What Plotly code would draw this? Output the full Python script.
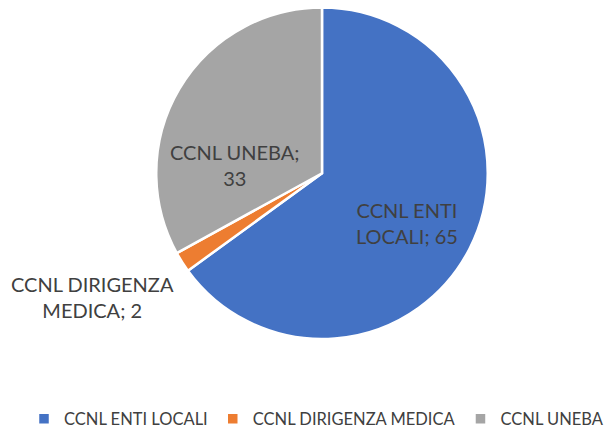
import plotly.graph_objects as go

categories = ["CCNL ENTI LOCALI", "CCNL DIRIGENZA MEDICA", "CCNL UNEBA"]
values = [65, 2, 33]
label_lines = [("CCNL ENTI", "LOCALI"), ("CCNL DIRIGENZA", "MEDICA"), ("CCNL UNEBA;", "")]
colors = ["#4472C4", "#ED7D31", "#A5A5A5"]

W, H = 616, 430
FONT = "Lato, 'Open Sans', sans-serif"
TXT = "#404040"

fig = go.Figure(go.Pie(
    labels=categories,
    values=values,
    textinfo="none",
    sort=False,
    direction="clockwise",
    rotation=0,
    marker=dict(colors=colors, line=dict(color="white", width=2.5)),
    domain=dict(x=[156 / W, 488 / W], y=[1 - 339 / H, 1 - 7.5 / H]),
    hoverinfo="label+value",
))

# data label placement (paper fractions): centre of each label block
label_pos = [(407 / W, 1 - 223 / H), (92.5 / W, 1 - 297 / H), (235 / W, 1 - 165 / H)]
for (l1, l2), v, (px, py) in zip(label_lines, values, label_pos):
    txt = f"{l1}<br>{l2}; {v}" if l2 else f"{l1}<br>{v}"
    fig.add_annotation(
        x=px, y=py, xref="paper", yref="paper",
        xanchor="center", yanchor="middle",
        text=txt, showarrow=False, align="center",
        font=dict(family=FONT, size=20, color=TXT),
    )

fig.update_layout(
    width=W, height=H,
    margin=dict(l=0, r=0, t=0, b=0, autoexpand=False),
    paper_bgcolor="white",
    plot_bgcolor="white",
    font=dict(family=FONT, color=TXT),
    legend=dict(
        orientation="h",
        x=24 / W, xanchor="left",
        y=1 - 419 / H, yanchor="middle",
        font=dict(family=FONT, size=16.5, color=TXT),
    ),
)

fig.write_html(
    "out.html",
    config={"displayModeBar": False},
    post_script="document.body.style.margin='0';document.body.style.overflow='hidden';",
)
